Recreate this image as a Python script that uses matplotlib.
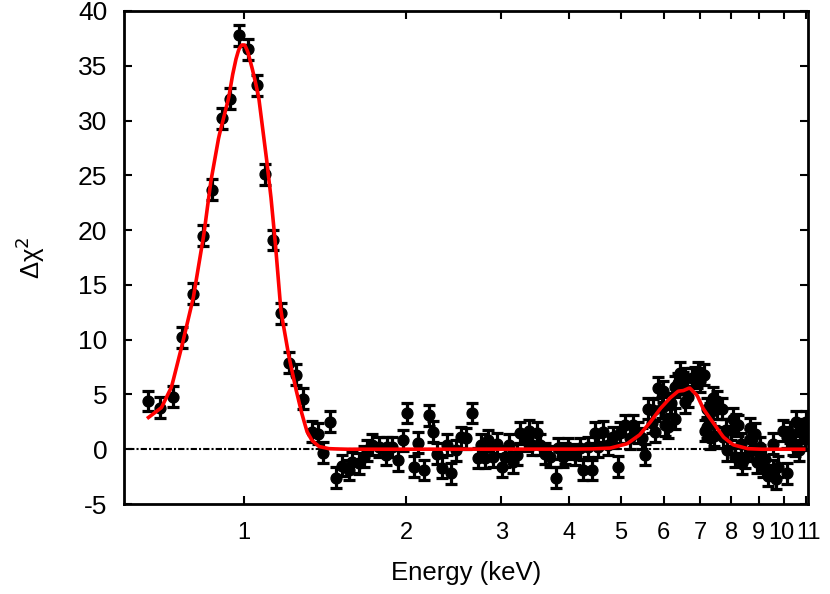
import matplotlib
matplotlib.use("Agg")
import matplotlib.pyplot as plt
import matplotlib.transforms as mtransforms
import numpy as np

plt.rcParams['font.family'] = ['Liberation Sans', 'DejaVu Sans']
plt.rcParams['axes.unicode_minus'] = False

# residual data points (energy in keV, delta chi^2)
energy = [0.666, 0.701, 0.738, 0.770, 0.804, 0.839, 0.872, 0.910, 0.942, 0.979,
          1.017, 1.057, 1.094, 1.132, 1.172, 1.212, 1.249, 1.287, 1.338, 1.373,
          1.403, 1.445, 1.483, 1.521, 1.567, 1.588, 1.636, 1.671, 1.693, 1.729,
          1.782, 1.836, 1.844, 1.884, 1.933, 1.975, 2.009, 2.070, 2.106, 2.161,
          2.208, 2.246, 2.285, 2.333, 2.384, 2.425, 2.478, 2.531, 2.586, 2.642,
          2.711, 2.757, 2.793, 2.829, 2.891, 2.941, 3.004, 3.043, 3.095, 3.149,
          3.203, 3.245, 3.315, 3.372, 3.416, 3.490, 3.535, 3.612, 3.690, 3.786,
          3.819, 3.901, 3.934, 3.985, 4.106, 4.195, 4.249, 4.341, 4.416, 4.473,
          4.531, 4.629, 4.729, 4.831, 4.935, 4.977, 5.085, 5.195, 5.262, 5.376,
          5.469, 5.540, 5.612, 5.706, 5.731, 5.780, 5.855, 5.956, 5.984, 6.035,
          6.113, 6.166, 6.191, 6.299, 6.299, 6.380, 6.435, 6.518, 6.574, 6.574,
          6.659, 6.775, 6.862, 6.921, 6.951, 7.011, 7.133, 7.162, 7.224, 7.224,
          7.318, 7.318, 7.413, 7.445, 7.541, 7.541, 7.703, 7.737, 7.836, 7.869,
          8.005, 8.074, 8.143, 8.178, 8.248, 8.355, 8.390, 8.499, 8.683, 8.683,
          8.757, 8.870, 8.946, 9.062, 9.062, 9.180, 9.259, 9.378, 9.541, 9.541,
          9.663, 9.746, 9.957, 10.13, 10.17, 10.26, 10.39, 10.48, 10.53, 10.66,
          10.71, 10.85, 10.94, 10.99, 11.05]
dchi2 = [4.4, 3.8, 4.8, 10.2, 14.2, 19.5, 23.7, 30.2, 32.0, 37.8,
         36.5, 33.2, 25.1, 19.1, 12.4, 7.9, 6.8, 4.6, 1.6, 1.4,
         -0.3, 2.5, -2.6, -1.5, -1.9, -1.2, -1.3, -0.7, -0.1, 0.4,
         0.2, -0.5, 0.2, 0.2, -1.0, 0.8, 3.3, -1.6, 0.6, -1.9,
         3.1, 1.6, -0.4, -1.7, 0.4, -2.2, -0.1, 1.1, 1.0, 3.3,
         -0.8, 0.4, -0.8, 0.8, -0.7, 0.5, -1.6, -0.7, 0.4, -1.2,
         -0.5, 1.5, 0.8, 1.7, 0.4, 1.5, 0.4, -0.4, -0.7, -2.6,
         0.1, -0.7, -0.4, 0.1, -0.5, 0.1, -1.9, 0.2, -1.9, 1.5,
         0.2, 1.6, 0.4, 1.1, -1.6, 1.5, 2.2, 1.0, 2.2, 1.5,
         1.0, -0.5, 3.7, 2.4, 3.6, 1.6, 5.6, 3.8, 5.3, 2.2,
         2.0, 4.0, 4.2, 5.7, 2.8, 6.0, 7.0, 6.1, 4.3, 6.5,
         4.8, 6.5, 6.6, 6.5, 7.0, 6.2, 6.8, 1.7, 2.0, 3.7,
         3.3, 1.0, 4.7, 1.2, 4.4, 3.7, 3.7, 1.1, 1.8, -0.1,
         1.8, 2.8, -0.7, 2.3, 2.2, 0.5, -1.3, -0.8, 0.9, 1.9,
         -0.1, 1.4, -1.2, -0.6, 0.2, -1.6, -0.9, -2.4, -1.9, 0.5,
         -2.7, -1.6, 1.7, -2.2, 1.1, 1.5, 0.4, 0.3, 2.5, -0.1,
         1.8, 1.5, 0.9, 2.5, 1.8]
err = 0.95

# model curve (two gaussian lines)
model_e = [0.666, 0.704, 0.735, 0.767, 0.807, 0.832, 0.843, 0.868, 0.899, 0.938,
           0.952, 0.966, 0.979, 0.991, 1.004, 1.017, 1.035, 1.050, 1.066, 1.099,
           1.123, 1.142, 1.172, 1.212, 1.249, 1.282, 1.310, 1.338, 1.378, 1.439,
           1.534, 2.0, 3.0, 3.851, 4.38, 4.77, 5.13, 5.41, 5.65, 5.91,
           6.17, 6.38, 6.52, 6.70, 6.92, 7.10, 7.41, 7.74, 8.07, 8.58,
           9.06, 10.9]
model_y = [2.9, 3.8, 5.7, 9.3, 13.9, 17.9, 19.5, 24.3, 28.5, 32.1,
           34.0, 35.5, 36.5, 36.9, 36.9, 36.3, 34.9, 33.6, 32.1, 27.0,
           23.0, 19.3, 12.6, 8.5, 5.5, 3.2, 1.6, 0.8, 0.25, 0.05,
           0.0, 0.0, 0.0, 0.0, 0.02, 0.1, 0.5, 1.3, 2.4, 3.7,
           4.7, 5.3, 5.35, 5.6, 4.9, 3.7, 2.4, 1.1, 0.4, 0.05,
           0.0, 0.0]

xticks = [1, 2, 3, 4, 5, 6, 7, 8, 9, 10, 11]

fig = plt.figure(figsize=(8.3, 5.94), dpi=100)
ax = fig.add_axes([0.1494, 0.1515, 0.8241, 0.83])

ax.axhline(0, color='black', lw=1.5, ls=(0, (1, 1, 3, 1)), zorder=1)
ax.errorbar(energy, dchi2, yerr=err, fmt='o', color='black', ms=7.8,
            elinewidth=2.3, capsize=4, capthick=2.3, zorder=2)
# smooth the read-off model points on a log grid
grid = np.logspace(np.log10(model_e[0]), np.log10(model_e[-1]), 600)
ax.plot(grid, np.interp(np.log10(grid), np.log10(model_e), model_y),
        color='red', lw=2.6, zorder=3)

ax.set_xscale('log')
ax.set_xlim(0.6, 11.1)
ax.set_ylim(-5, 40)
ax.set_xticks(xticks)
ax.set_xticklabels([str(t) for t in xticks],
                   family=['Liberation Sans Narrow', 'Liberation Sans'])
ax.xaxis.set_minor_locator(matplotlib.ticker.NullLocator())
ax.set_yticks(range(-5, 41, 5))

for s in ax.spines.values():
    s.set_linewidth(2)
ax.tick_params(direction='in', top=True, right=True, length=6, width=1.5)
ax.tick_params(axis='y', labelsize=19, pad=12)
ax.tick_params(axis='x', labelsize=17, pad=13)

# "10" and "11" sit very close on the log axis, nudge them apart a little
labs = ax.get_xticklabels()
labs[-2].set_transform(labs[-2].get_transform() +
                       mtransforms.ScaledTranslation(-2.5 / 100, 0, fig.dpi_scale_trans))
labs[-1].set_transform(labs[-1].get_transform() +
                       mtransforms.ScaledTranslation(2.5 / 100, 0, fig.dpi_scale_trans))

ax.set_xlabel('Energy (keV)', fontsize=18.5, labelpad=12)
ax.set_ylabel('Δχ$^2$', fontsize=18.5, labelpad=22)

fig.savefig('out.png', dpi=100)
